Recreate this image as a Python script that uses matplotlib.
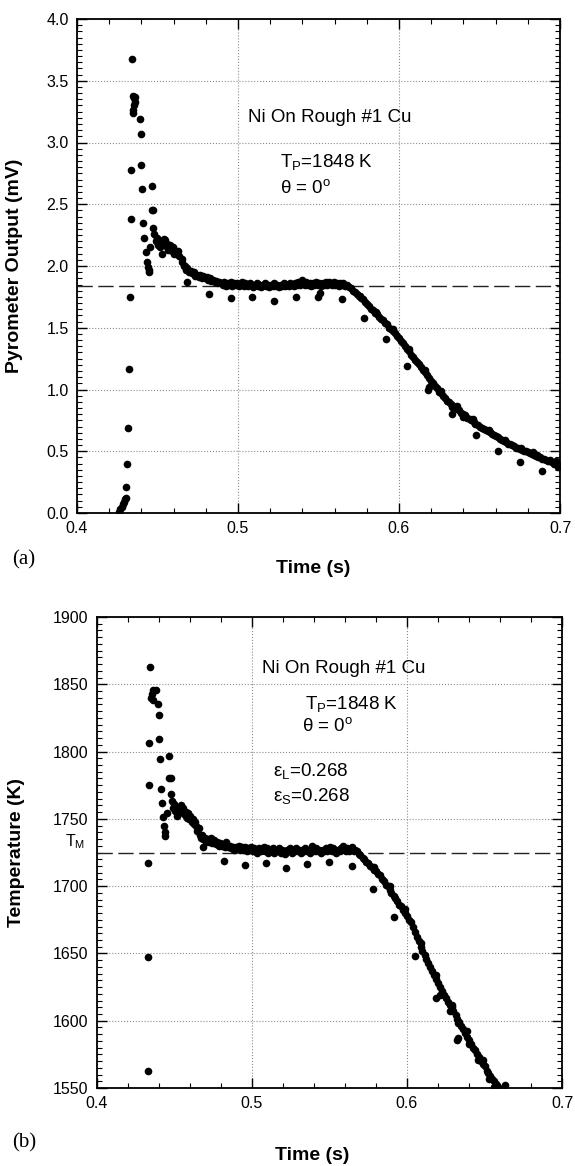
import matplotlib
matplotlib.use("Agg")
import matplotlib.pyplot as plt
from matplotlib.ticker import MultipleLocator, FormatStrFormatter

plt.rcParams['font.family'] = ['Liberation Sans', 'DejaVu Sans']
plt.rcParams['mathtext.fontset'] = 'custom'
plt.rcParams['mathtext.rm'] = 'Liberation Sans'
plt.rcParams['mathtext.it'] = 'Liberation Sans:italic'
plt.rcParams['mathtext.bf'] = 'Liberation Sans:bold'

# ---------------- Panel (a): pyrometer output (mV) ----------------
xa_rise = [0.4263, 0.4270, 0.4278, 0.4285, 0.4292, 0.4298, 0.4302, 0.4306, 0.4312, 0.4319,
           0.4323, 0.4330, 0.4333, 0.4335, 0.4340]
ya_rise = [0.01, 0.03, 0.05, 0.07, 0.09, 0.11, 0.12, 0.21, 0.40, 0.69,
           1.17, 1.75, 2.38, 2.78, 3.68]

xa_spike = [0.4350, 0.4356, 0.4362, 0.4352, 0.4348, 0.4350, 0.4360, 0.4390, 0.4400, 0.4400,
            0.4406, 0.4466, 0.4466, 0.4472, 0.4410, 0.4474, 0.4418, 0.4427, 0.4453, 0.4432,
            0.4438, 0.4445, 0.4448]
ya_spike = [3.38, 3.36, 3.37, 3.30, 3.26, 3.24, 3.33, 3.19, 3.07, 2.82,
            2.62, 2.65, 2.45, 2.45, 2.35, 2.31, 2.23, 2.11, 2.15, 2.03,
            1.99, 1.95, 1.97]

xa_band = [0.4480, 0.4490, 0.4495, 0.4502, 0.4510, 0.4515, 0.4526, 0.4530, 0.4538, 0.4547,
           0.4552, 0.4560, 0.4568, 0.4575, 0.4583, 0.4590, 0.4598, 0.4605, 0.4612, 0.4620,
           0.4628, 0.4635, 0.4650, 0.4655, 0.4662]
ya_band = [2.26, 2.20, 2.23, 2.17, 2.21, 2.15, 2.10, 2.19, 2.22, 2.21,
           2.16, 2.18, 2.13, 2.17, 2.14, 2.12, 2.15, 2.10, 2.12, 2.10,
           2.12, 2.08, 2.06, 2.03, 2.00]

xa_fall1 = [0.4668, 0.4675, 0.4685, 0.4695, 0.4705, 0.4715, 0.4725, 0.4735, 0.4745, 0.4755,
            0.4765, 0.4775, 0.4785, 0.4795, 0.4805, 0.4815, 0.4825, 0.4835, 0.4845, 0.4855,
            0.4865, 0.4875, 0.4885]
ya_fall1 = [2.00, 1.97, 1.98, 1.95, 1.96, 1.94, 1.95, 1.92, 1.93, 1.91,
            1.93, 1.90, 1.92, 1.90, 1.91, 1.89, 1.90, 1.88, 1.89, 1.87,
            1.88, 1.86, 1.87]

xa_plat = [0.4895, 0.4905, 0.4915, 0.4925, 0.4935, 0.4945, 0.4955, 0.4965, 0.4975, 0.4985,
           0.4995, 0.5005, 0.5015, 0.5025, 0.5035, 0.5045, 0.5055, 0.5065, 0.5075, 0.5085,
           0.5095, 0.5105, 0.5115, 0.5125, 0.5135, 0.5145, 0.5155, 0.5165, 0.5175, 0.5185,
           0.5195, 0.5205, 0.5215, 0.5225, 0.5235, 0.5245, 0.5255, 0.5265, 0.5275, 0.5285,
           0.5295, 0.5305, 0.5315, 0.5325, 0.5335, 0.5345, 0.5355, 0.5365, 0.5375, 0.5385,
           0.5395, 0.5405, 0.5415, 0.5425, 0.5435, 0.5445, 0.5455, 0.5465, 0.5475, 0.5485,
           0.5495, 0.5505, 0.5515, 0.5525, 0.5535, 0.5545, 0.5555, 0.5565, 0.5575, 0.5585,
           0.5595, 0.5605, 0.5615, 0.5625, 0.5635, 0.5645, 0.5655, 0.5665]
ya_plat = [1.86, 1.85, 1.87, 1.84, 1.86, 1.85, 1.87, 1.84, 1.86, 1.85,
           1.86, 1.84, 1.85, 1.87, 1.84, 1.86, 1.85, 1.84, 1.86, 1.85,
           1.83, 1.85, 1.86, 1.84, 1.85, 1.83, 1.85, 1.86, 1.84, 1.85,
           1.83, 1.85, 1.84, 1.86, 1.84, 1.85, 1.83, 1.85, 1.84, 1.86,
           1.84, 1.85, 1.84, 1.86, 1.85, 1.84, 1.86, 1.85, 1.87, 1.85,
           1.89, 1.86, 1.85, 1.87, 1.85, 1.86, 1.84, 1.86, 1.85, 1.87,
           1.85, 1.86, 1.84, 1.86, 1.85, 1.87, 1.85, 1.87, 1.86, 1.85,
           1.87, 1.85, 1.86, 1.84, 1.86, 1.85, 1.86, 1.84]

xa_fall2 = [0.5675, 0.5688, 0.5700, 0.5712, 0.5725, 0.5738, 0.5750, 0.5763, 0.5775, 0.5788,
            0.5800, 0.5813, 0.5825, 0.5838, 0.5850, 0.5863, 0.5875, 0.5888, 0.5900, 0.5913,
            0.5925, 0.5938, 0.5950, 0.5963, 0.5975, 0.5988, 0.6000, 0.6013, 0.6025, 0.6038,
            0.6050, 0.6063, 0.6075, 0.6088, 0.6100, 0.6113, 0.6125, 0.6138, 0.6150, 0.6163,
            0.6175, 0.6188, 0.6200, 0.6213, 0.6225, 0.6238, 0.6250, 0.6263, 0.6275, 0.6288,
            0.6300, 0.6313, 0.6325, 0.6338, 0.6350, 0.6363, 0.6375, 0.6388, 0.6400, 0.6413,
            0.6425, 0.6438, 0.6450, 0.6463, 0.6475, 0.6488, 0.6500, 0.6513, 0.6525, 0.6538,
            0.6550, 0.6563, 0.6575, 0.6588, 0.6600, 0.6613, 0.6625, 0.6638, 0.6650, 0.6663,
            0.6675, 0.6688, 0.6700, 0.6713, 0.6725, 0.6738, 0.6750, 0.6763, 0.6775, 0.6788,
            0.6800, 0.6813, 0.6825, 0.6838, 0.6850, 0.6863, 0.6875, 0.6888, 0.6900, 0.6913,
            0.6925, 0.6938, 0.6950, 0.6963, 0.6975, 0.6988, 0.7000,
            0.6185, 0.6330, 0.6400, 0.6860, 0.6990, 0.6975,
            0.5760, 0.5860, 0.5960, 0.6060, 0.6160, 0.6260, 0.6360, 0.6460, 0.6560, 0.6660,
            0.6760, 0.6830, 0.6940]
ya_fall2 = [1.85, 1.83, 1.82, 1.80, 1.79, 1.77, 1.76, 1.74, 1.73, 1.71,
            1.69, 1.68, 1.65, 1.64, 1.62, 1.61, 1.59, 1.57, 1.56, 1.54,
            1.53, 1.50, 1.49, 1.47, 1.46, 1.43, 1.42, 1.39, 1.38, 1.35,
            1.33, 1.31, 1.28, 1.26, 1.24, 1.22, 1.21, 1.18, 1.16, 1.14,
            1.12, 1.09, 1.07, 1.05, 1.03, 1.01, 0.98, 0.97, 0.95, 0.93,
            0.91, 0.90, 0.88, 0.87, 0.86, 0.84, 0.83, 0.81, 0.80, 0.79,
            0.77, 0.76, 0.75, 0.74, 0.72, 0.71, 0.70, 0.69, 0.68, 0.67,
            0.66, 0.655, 0.64, 0.635, 0.62, 0.615, 0.60, 0.595, 0.58, 0.575,
            0.56, 0.555, 0.55, 0.54, 0.53, 0.525, 0.52, 0.51, 0.505, 0.50,
            0.49, 0.485, 0.48, 0.47, 0.46, 0.455, 0.45, 0.44, 0.44, 0.43,
            0.42, 0.42, 0.41, 0.40, 0.40, 0.39, 0.38,
            1.02, 0.86, 0.78, 0.47, 0.37, 0.42,
            1.76, 1.63, 1.49, 1.33, 1.16, 0.99, 0.87, 0.76, 0.67, 0.59,
            0.53, 0.49, 0.43]

xa_out = [0.4681, 0.4822, 0.4955, 0.5089, 0.5224, 0.5360, 0.5495, 0.5510, 0.5648,
          0.5785, 0.5917, 0.6052, 0.6182, 0.6327, 0.6478, 0.6617, 0.6752, 0.6886]
ya_out = [1.87, 1.77, 1.74, 1.75, 1.72, 1.75, 1.75, 1.78, 1.735,
          1.58, 1.41, 1.19, 1.00, 0.80, 0.63, 0.50, 0.41, 0.34]

ya_ref = 1.84  # dashed reference level (mV)

# ---------------- Panel (b): temperature (K) ----------------
xb_spike = [0.4328, 0.4330, 0.4331, 0.4335, 0.4337, 0.4342, 0.4363, 0.4381, 0.4353, 0.4346,
            0.4359, 0.4392, 0.4398, 0.4402, 0.4406, 0.4466, 0.4462, 0.4475, 0.4413, 0.4477,
            0.4417, 0.4426, 0.4432, 0.4436, 0.4439, 0.4450]
Tb_spike = [1563, 1647, 1717, 1775, 1806.5, 1863, 1846, 1846, 1843, 1840,
            1838, 1835, 1827, 1809, 1794.5, 1796.5, 1780.5, 1780.5, 1772, 1768.7,
            1761.5, 1751.5, 1745, 1740, 1737, 1754.5]

xb_band = [0.4482, 0.4490, 0.4498, 0.4505, 0.4512, 0.4518, 0.4525, 0.4532, 0.4540, 0.4548,
           0.4557, 0.4565, 0.4572, 0.4580, 0.4588, 0.4595, 0.4603, 0.4610, 0.4618, 0.4625,
           0.4633, 0.4640, 0.4648, 0.4655, 0.4662, 0.4670, 0.4678, 0.4686, 0.4695, 0.4705,
           0.4715, 0.4725, 0.4735, 0.4745, 0.4755, 0.4765, 0.4775, 0.4785, 0.4795, 0.4805,
           0.4815, 0.4825, 0.4835, 0.4845, 0.4855, 0.4865, 0.4875, 0.4885, 0.4895, 0.4905,
           0.4915, 0.4925, 0.4935]
Tb_band = [1763, 1758, 1761, 1756, 1759, 1752, 1757, 1754, 1760, 1756,
           1758, 1753, 1755, 1751, 1754, 1750, 1752, 1748, 1750, 1746,
           1748, 1745, 1741, 1743, 1738, 1736, 1738, 1735, 1736, 1733,
           1735, 1733, 1736, 1732, 1734, 1731, 1733, 1730, 1732, 1730,
           1731, 1729, 1733, 1729, 1730, 1728, 1729, 1727, 1729, 1728,
           1730, 1727, 1729]

xb_plat = [0.4945, 0.4955, 0.4965, 0.4975, 0.4985, 0.4995, 0.5005, 0.5015, 0.5025, 0.5035,
           0.5045, 0.5055, 0.5065, 0.5075, 0.5085, 0.5095, 0.5105, 0.5115, 0.5125, 0.5135,
           0.5145, 0.5155, 0.5165, 0.5175, 0.5185, 0.5195, 0.5205, 0.5215, 0.5225, 0.5235,
           0.5245, 0.5255, 0.5265, 0.5275, 0.5285, 0.5295, 0.5305, 0.5315, 0.5325, 0.5335,
           0.5345, 0.5355, 0.5365, 0.5375, 0.5385, 0.5395, 0.5405, 0.5415, 0.5425, 0.5435,
           0.5445, 0.5455, 0.5465, 0.5475, 0.5485, 0.5495, 0.5505, 0.5515, 0.5525, 0.5535,
           0.5545, 0.5555, 0.5565, 0.5575, 0.5585, 0.5595, 0.5605, 0.5615, 0.5625, 0.5635,
           0.5645, 0.5655, 0.5665]
Tb_plat = [1727, 1729, 1726, 1728, 1727, 1729, 1726, 1728, 1727, 1725,
           1728, 1726, 1727, 1729, 1726, 1728, 1725, 1727, 1726, 1728,
           1725, 1727, 1726, 1728, 1725, 1727, 1726, 1724, 1727, 1726,
           1728, 1725, 1727, 1726, 1728, 1726, 1727, 1725, 1727, 1726,
           1728, 1726, 1727, 1725, 1730, 1727, 1726, 1728, 1726, 1727,
           1725, 1727, 1726, 1728, 1726, 1727, 1729, 1726, 1728, 1727,
           1725, 1727, 1726, 1728, 1730, 1727, 1726, 1728, 1726, 1727,
           1729, 1726, 1727]

xb_fall = [0.5675, 0.5688, 0.5700, 0.5713, 0.5725, 0.5738, 0.5750, 0.5763, 0.5775, 0.5788,
           0.5800, 0.5813, 0.5825, 0.5838, 0.5850, 0.5863, 0.5875, 0.5888, 0.5900, 0.5913,
           0.5925, 0.5938, 0.5950, 0.5963, 0.5975, 0.5988, 0.6000, 0.6013, 0.6025, 0.6038,
           0.6050, 0.6063, 0.6075, 0.6088, 0.6100, 0.6113, 0.6125, 0.6138, 0.6150, 0.6163,
           0.6175, 0.6188, 0.6200, 0.6213, 0.6225, 0.6238, 0.6250, 0.6263, 0.6275, 0.6288,
           0.6300, 0.6313, 0.6325, 0.6338, 0.6350, 0.6363, 0.6375, 0.6388, 0.6400, 0.6413,
           0.6425, 0.6438, 0.6450, 0.6463, 0.6475, 0.6488, 0.6500, 0.6513, 0.6525, 0.6538,
           0.6550, 0.6563, 0.6575, 0.6588, 0.6632,
           0.6215, 0.6275, 0.6330, 0.6400, 0.6455, 0.6530, 0.6560,
           0.5790, 0.5890, 0.5990, 0.6090, 0.6190, 0.6290, 0.6390, 0.6490]
Tb_fall = [1726, 1724, 1723, 1721, 1720, 1718, 1717, 1715, 1714, 1712,
           1711, 1709, 1708, 1705, 1704, 1701, 1700, 1697, 1695, 1693,
           1691, 1689, 1686, 1685, 1682, 1680, 1678, 1675, 1673, 1670,
           1666, 1662, 1659, 1655, 1652, 1649, 1646, 1643, 1640, 1637,
           1634, 1631, 1628, 1625, 1622, 1619, 1617, 1614, 1612, 1610,
           1607, 1604, 1601, 1599, 1596, 1594, 1591, 1588, 1586, 1583,
           1580, 1578, 1575, 1573, 1570, 1568, 1566, 1563, 1561, 1559,
           1557, 1555, 1553, 1551, 1552,
           1619, 1607, 1598, 1583, 1571, 1557, 1551,
           1714, 1700, 1683, 1658, 1634, 1612, 1592, 1571]

xb_out = [0.4682, 0.4819, 0.4955, 0.5088, 0.5219, 0.5357, 0.5499, 0.5643,
          0.5783, 0.5918, 0.6052, 0.6187, 0.6320, 0.6330]
Tb_out = [1729, 1719, 1716, 1717, 1713.5, 1716.4, 1717.6, 1715,
          1698, 1677, 1648, 1617, 1585.5, 1587]

Tb_ref = 1725  # melting temperature T_M

# ---------------- figure ----------------
W, H = 575, 1166
fig = plt.figure(figsize=(W / 100, H / 100), dpi=100)
axa = fig.add_axes([77 / W, 1 - 513 / H, 483 / W, 494 / H])
axb = fig.add_axes([97 / W, 1 - 1088 / H, 465 / W, 471 / H])

mk = dict(linestyle='none', marker='o', color='black', markersize=5.5,
          markeredgewidth=0, zorder=3)


def style(ax):
    ax.set_xlim(0.4, 0.7)
    ax.xaxis.set_major_locator(MultipleLocator(0.1))
    ax.xaxis.set_minor_locator(MultipleLocator(0.02))
    ax.xaxis.set_major_formatter(FormatStrFormatter('%.1f'))
    ax.tick_params(which='both', direction='in', top=True, right=True,
                   labelsize=11.5, pad=6)
    ax.tick_params(which='major', length=7, width=1.0)
    ax.tick_params(which='minor', length=3.5, width=0.8)
    ax.grid(True, which='major', linestyle=':', color='#8c8c8c', linewidth=0.8)
    for s in ax.spines.values():
        s.set_linewidth(1.3)


# panel a
for xs, ys in [(xa_rise, ya_rise), (xa_spike, ya_spike), (xa_band, ya_band),
               (xa_fall1, ya_fall1), (xa_plat, ya_plat), (xa_fall2, ya_fall2),
               (xa_out, ya_out)]:
    axa.plot(xs, ys, **mk)
axa.axhline(ya_ref, color='#222222', linewidth=1.0, dashes=(11, 4), zorder=2)
style(axa)
axa.set_ylim(0, 4.0)
axa.yaxis.set_major_locator(MultipleLocator(0.5))
axa.yaxis.set_minor_locator(MultipleLocator(0.05))
axa.yaxis.set_major_formatter(FormatStrFormatter('%.1f'))
axa.set_xlabel('Time (s)', fontsize=14, fontweight='bold')
axa.xaxis.set_label_coords(0.49, -0.095)
axa.set_ylabel('Pyrometer Output (mV)', fontsize=14, fontweight='bold')
axa.yaxis.set_label_coords(-0.112, 0.5)
axa.text(0.506, 3.20, 'Ni On Rough #1 Cu', fontsize=13.5, ha='left', va='center')
axa.text(0.526, 2.84, r'T$_{\rm P}$=1848 K', fontsize=13.5, ha='left', va='center')
axa.text(0.526, 2.63, r'θ = 0$^{\rm o}$', fontsize=13.5, ha='left', va='center')

# panel b
for xs, ys in [(xb_spike, Tb_spike), (xb_band, Tb_band), (xb_plat, Tb_plat),
               (xb_fall, Tb_fall), (xb_out, Tb_out)]:
    axb.plot(xs, ys, **mk)
axb.axhline(Tb_ref, color='#222222', linewidth=1.0, dashes=(11, 4), zorder=2)
style(axb)
axb.set_ylim(1550, 1900)
axb.yaxis.set_major_locator(MultipleLocator(50))
axb.yaxis.set_minor_locator(MultipleLocator(5))
axb.set_xlabel('Time (s)', fontsize=14, fontweight='bold')
axb.xaxis.set_label_coords(0.462, -0.125)
axb.set_ylabel('Temperature (K)', fontsize=14, fontweight='bold')
axb.yaxis.set_label_coords(-0.155, 0.5)
axb.text(0.5065, 1862, 'Ni On Rough #1 Cu', fontsize=13.5, ha='left', va='center')
axb.text(0.534, 1835, r'T$_{\rm P}$=1848 K', fontsize=13.5, ha='left', va='center')
axb.text(0.532, 1819, r'θ = 0$^{\rm o}$', fontsize=13.5, ha='left', va='center')
axb.text(0.5135, 1785.5, r'ε$_{\rm L}$=0.268', fontsize=13.5, ha='left', va='center')
axb.text(0.5135, 1767, r'ε$_{\rm S}$=0.268', fontsize=13.5, ha='left', va='center')
axb.text(-0.047, 1733, r'T$_{\rm M}$', fontsize=11.5, ha='center', va='center',
         transform=axb.get_yaxis_transform())

fig.text(12 / W, 1 - 560 / H, '(a)', fontsize=15, family='Liberation Serif',
         ha='left', va='center')
fig.text(12 / W, 1 - 1143 / H, '(b)', fontsize=15, family='Liberation Serif',
         ha='left', va='center')

fig.savefig('out.png', dpi=100)
